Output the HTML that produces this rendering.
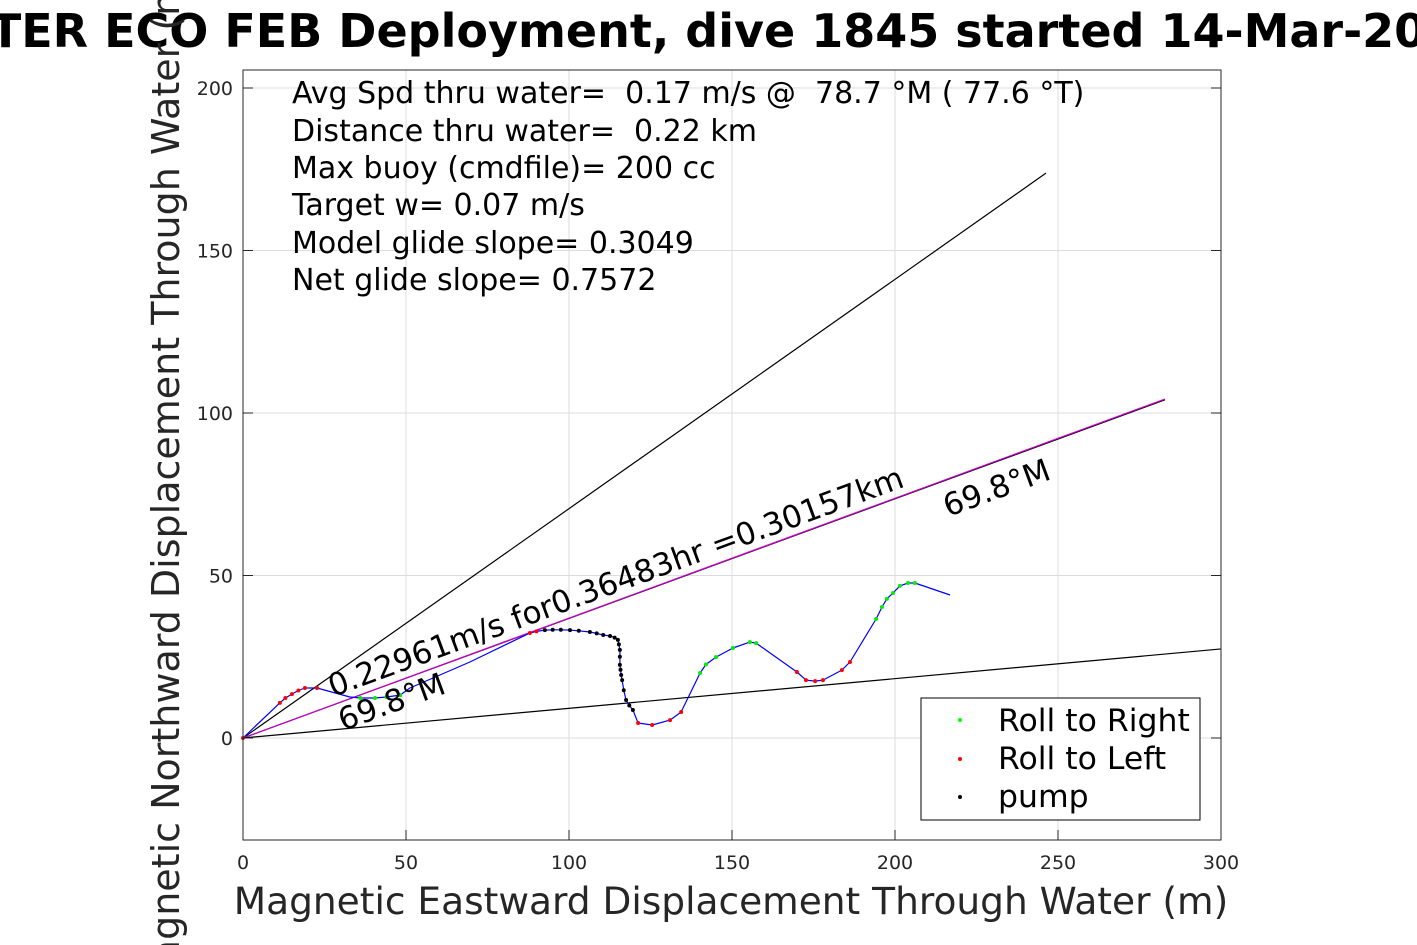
<!DOCTYPE html>
<html><head><meta charset="utf-8"><style>
html,body{margin:0;padding:0;background:#fff;}
svg{display:block;font-family:"DejaVu Sans","Liberation Sans",sans-serif;}
text{white-space:pre;}
</style></head><body>
<svg id="chart" width="1417" height="945" viewBox="0 0 1417 945" xmlns="http://www.w3.org/2000/svg">
<rect x="0" y="0" width="1417" height="945" fill="#fff"/>
<g id="grid"></g>
<g id="lines"></g>
<g id="track"></g>
<rect x="243" y="70" width="978" height="770" fill="none" stroke="#262626" stroke-width="1"/>
<g id="ticks" font-size="19" fill="#262626"></g>
<text x="708" y="47" text-anchor="middle" font-size="46" font-weight="bold">TER ECO FEB Deployment, dive 1845 started 14-Mar-20</text>
<text x="731" y="914" text-anchor="middle" font-size="37.5" fill="#262626">Magnetic Eastward Displacement Through Water (m)</text>
<text transform="translate(179,480) rotate(-90)" text-anchor="middle" font-size="38" fill="#262626">Magnetic Northward Displacement Through Water (m)</text>
<g font-size="30" fill="#000">
<text x="292" y="103" xml:space="preserve">Avg Spd thru water=  0.17 m/s @  78.7 °M ( 77.6 °T)</text>
<text x="292" y="141" xml:space="preserve">Distance thru water=  0.22 km</text>
<text x="292" y="178">Max buoy (cmdfile)= 200 cc</text>
<text x="292" y="215">Target w= 0.07 m/s</text>
<text x="292" y="253">Model glide slope= 0.3049</text>
<text x="292" y="290">Net glide slope= 0.7572</text>
</g>
<text transform="translate(333,697) rotate(-20.2)" font-size="31">0.22961m/s for0.36483hr =0.30157km</text>
<text transform="translate(343,731) rotate(-20.2)" font-size="31">69.8°M</text>
<text transform="translate(948,517) rotate(-20.2)" font-size="31">69.8°M</text>
<g>
<rect x="921" y="698" width="279" height="122" fill="#fff" stroke="#000" stroke-width="1"/>
<circle cx="960" cy="720" r="2" fill="#00ff00"/>
<text x="998" y="731" font-size="31.5">Roll to Right</text>
<circle cx="960" cy="759" r="2" fill="#ff0000"/>
<text x="998" y="769" font-size="31.5">Roll to Left</text>
<circle cx="960" cy="797" r="2" fill="#000"/>
<text x="998" y="807" font-size="31.5">pump</text>
</g>
</svg>
<script>
const xTicks=[0,50,100,150,200,250,300];
const yTicks=[0,50,100,150,200];
const trackX=[0,11.3,13.0,15.0,17.0,19.0,22.7,32.8,36.0,40.5,44.0,48.2,51.2,69.6,88.0,90.0,92.6,95.0,97.5,100.3,103.0,106.4,108.5,110.5,112.6,114.0,115.0,115.3,115.6,115.6,115.6,115.8,116.0,116.3,116.8,117.5,118.5,119.6,121.2,125.5,131.0,134.4,140.2,142.0,145.1,150.3,155.5,157.4,169.9,172.7,175.5,177.9,183.7,186.2,194.2,196.0,197.5,199.4,201.5,204.0,206.1,216.9];
const trackY=[0,10.8,12.3,13.5,14.6,15.4,15.4,12.6,12.3,12.3,12.6,13.2,15.4,23.4,32.3,32.8,33.2,33.3,33.3,33.2,33.0,32.6,32.2,31.7,31.4,30.9,30.2,28.8,27.1,25.0,22.5,21.0,19.4,17.8,14.7,11.7,10.0,8.6,4.6,4.0,5.5,8.0,20.0,22.6,24.9,27.7,29.5,29.2,20.3,17.8,17.5,17.8,20.9,23.4,36.6,40.3,42.8,44.6,46.8,47.7,47.7,44.0];
const trackType=['l','l','l','l','l','l','l','','r','r','r','r','','','l','l','p','p','p','p','p','p','p','p','p','p','p','p','p','p','p','p','p','p','p','p','p','p','l','l','l','l','r','r','r','r','r','r','l','l','l','l','l','l','r','r','r','r','r','r','r',''];
const lineEndX=[246.3,282.8,300];
const lineEndY=[173.8,104.3,27.4];
const lineColor=['#000','#cc00cc','#000'];
const X=v=>243+v*3.26, Y=v=>738-v*3.25;
const NS='http://www.w3.org/2000/svg';
function mk(t,a,p){const e=document.createElementNS(NS,t);for(const k in a)e.setAttribute(k,a[k]);p.appendChild(e);return e;}
const grid=document.getElementById('grid'),ticks=document.getElementById('ticks');
xTicks.forEach(v=>{
  const g=mk('line',{x1:X(v),x2:X(v),y1:70,y2:840,stroke:'#dcdcdc','stroke-width':1},grid);
  
  
  const t=mk('line',{x1:X(v),x2:X(v),y1:840,y2:830,stroke:'#262626'},ticks);
  
  
  const l=mk('text',{x:X(v),y:869,'text-anchor':'middle'},ticks);l.textContent=v;
  
  
});
yTicks.forEach(v=>{
  const g=mk('line',{x1:243,x2:1221,y1:Y(v),y2:Y(v),stroke:'#dcdcdc','stroke-width':1},grid);
  
  
  const t=mk('line',{x1:243,x2:253,y1:Y(v),y2:Y(v),stroke:'#262626'},ticks);
  
  
  const t2=mk('line',{x1:1211,x2:1221,y1:Y(v),y2:Y(v),stroke:'#262626'},ticks);
  
  
  const l=mk('text',{x:233,y:Y(v)+7,'text-anchor':'end'},ticks);l.textContent=v;
  
  
});
const lines=document.getElementById('lines');
lineEndX.forEach((v,i)=>{
  if(i===1){const b=mk('line',{x1:X(0),y1:Y(0),x2:X(v),y2:Y(lineEndY[i])+0.8,stroke:'#000','stroke-width':1.2},lines);
  
  }
  const l=mk('line',{x1:X(0),y1:Y(0),x2:X(v),y2:Y(lineEndY[i]),stroke:lineColor[i],'stroke-width':1.2},lines);
  
  
});
const track=document.getElementById('track');
let d='';trackX.forEach((v,i)=>{d+=(i?'L':'M')+X(v).toFixed(1)+' '+Y(trackY[i]).toFixed(1);});
const p=mk('path',{d:d,fill:'none',stroke:'#0000ff','stroke-width':1.2,'stroke-linejoin':'round'},track);


const col={r:'#00ee00',l:'#ff0000',p:'#000'};
trackX.forEach((v,i)=>{const t=trackType[i];if(!t)return;
  const c=mk('circle',{cx:X(v),cy:Y(trackY[i]),r:2,fill:col[t]},track);
  
  
});
</script>
</body></html>
